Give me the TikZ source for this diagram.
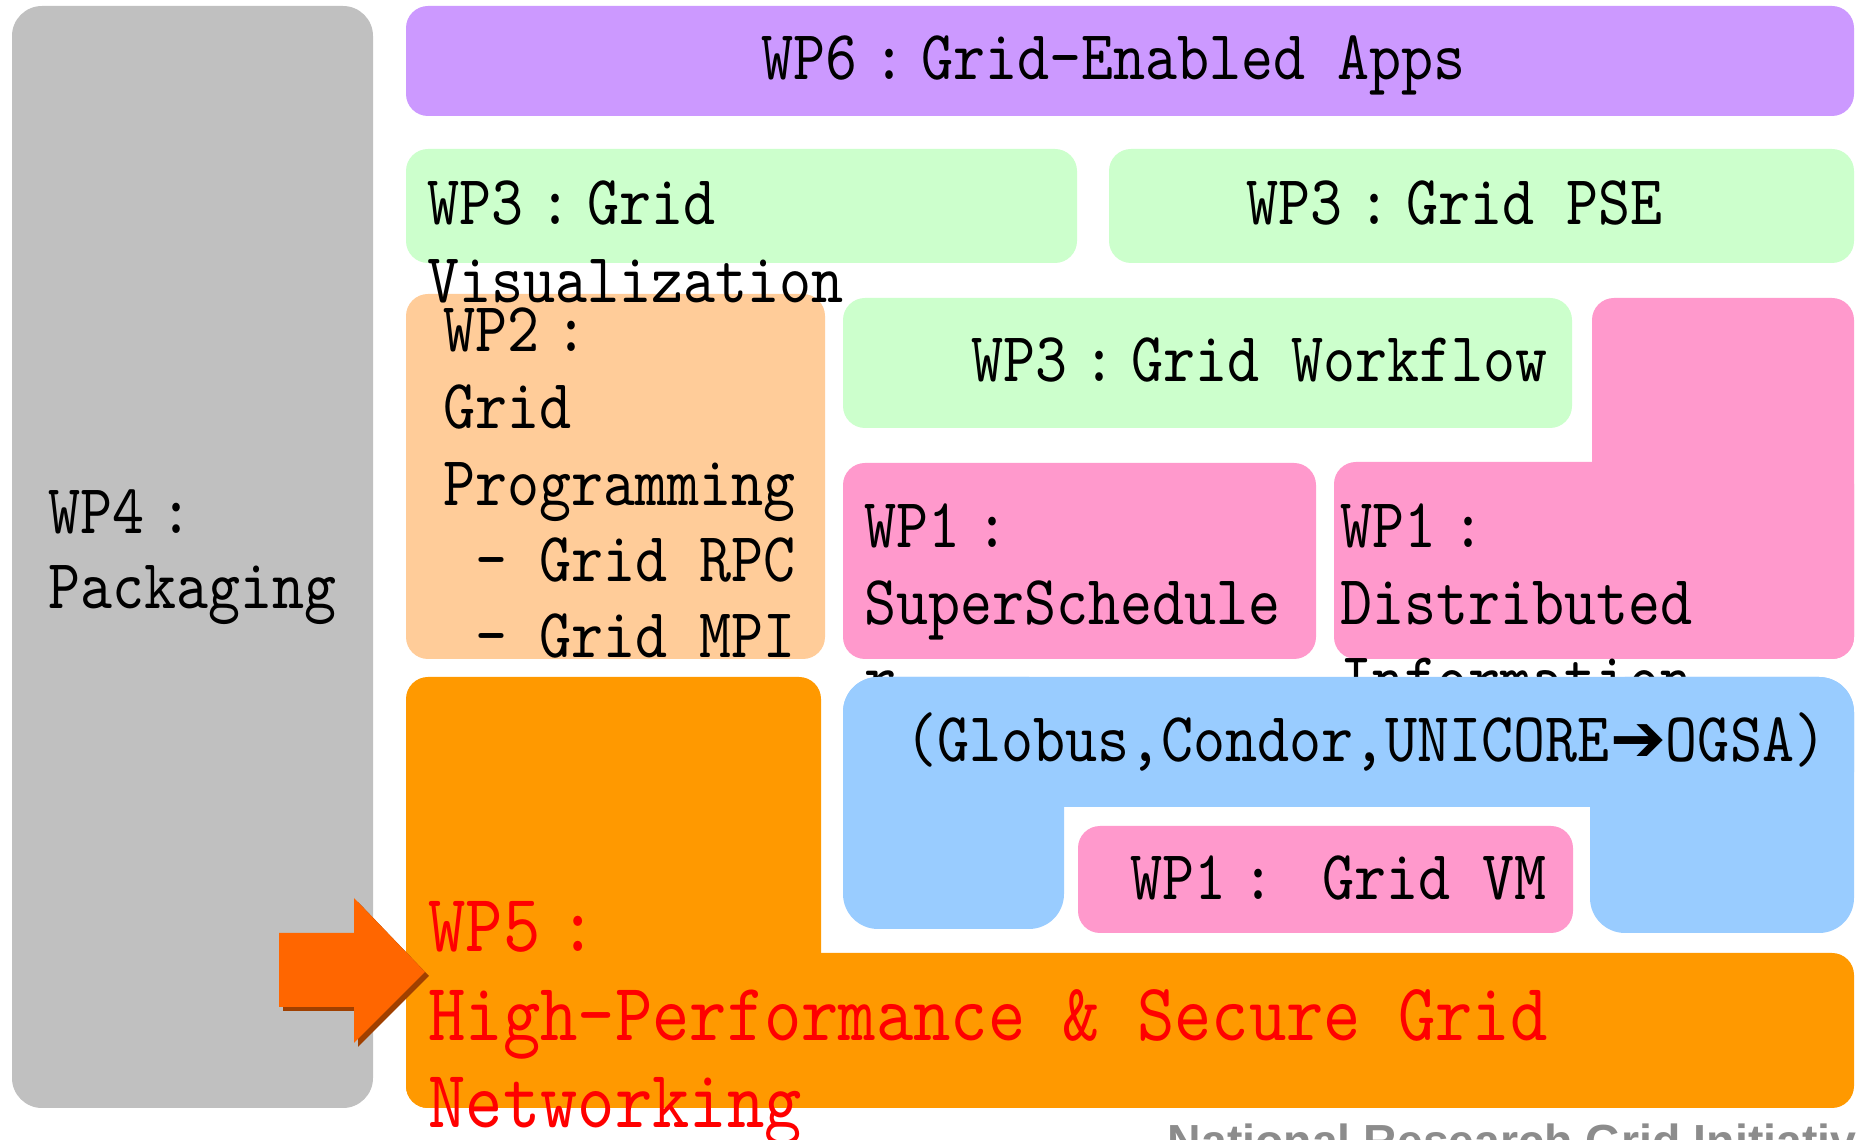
\documentclass[tikz,border=0pt]{standalone}
\usepackage{fontspec}
\setsansfont{Liberation Sans}
\newfontfamily\wpfont{lmmono10-regular.otf}[FakeStretch=0.867]
\newfontfamily\symfont{DejaVu Sans}
\usepackage{xcolor}
\usepackage{tikz}
\usetikzlibrary{positioning}
\definecolor{wpgray}{HTML}{C0C0C0}
\definecolor{wppurple}{HTML}{CC99FF}
\definecolor{wpgreen}{HTML}{CCFFCC}
\definecolor{wppeach}{HTML}{FFCC99}
\definecolor{wppink}{HTML}{FF99CC}
\definecolor{wpblue}{HTML}{99CCFF}
\definecolor{wporange}{HTML}{FF9900}
\definecolor{wparrow}{HTML}{FF6600}
\definecolor{wparrowdk}{HTML}{A04000}
\definecolor{wpred}{HTML}{FF0000}
\definecolor{nrgray}{HTML}{8C8C8C}
% full-width colon (two columns)
\newcommand\jc{\makebox[2\fontcharwd\font`\:]{:}}
\tikzset{box/.style={rounded corners=0.22cm},
  txt/.style={anchor=base west, inner sep=0pt, font=\wpfont\fontsize{20}{24}\selectfont},
  redtxt/.style={txt, text=wpred, font=\wpfont\fontsize{23.3}{28}\selectfont}}

\begin{document}
\begin{tikzpicture}[x=0.01cm, y=-0.01cm]
    \useasboundingbox (0,0) rectangle (1856,1140);
    \clip (0,0) rectangle (1856,1140);
    \fill[white] (0,0) rectangle (1856,1140);

    % WP4 column
    \fill[wpgray, rounded corners=0.3cm] (12,6) rectangle (373,1108);
    \node[txt] (wp4a) at (48,534) {WP4\jc};
    \node[txt] (wp4b) at (48,609) {Packaging};

    % WP6 band
    \fill[wppurple, box] (406,6) rectangle (1854,116);
    \node[txt] (wp6) at (761,80) {WP6\jc Grid-Enabled Apps};

    % WP3 boxes
    \fill[wpgreen, box] (406,149) rectangle (1077,263);
    \fill[wpgreen, box] (1109,149) rectangle (1854,263);
    \node[txt] (pse) at (1246,225) {WP3\jc Grid PSE};

    % WP2
    \fill[wppeach, box] (406,294) rectangle (825,659);
    \node[txt] (wp2a) at (443,352) {WP2\jc};
    \node[txt] (wp2b) at (443,429) {Grid};
    \node[txt] (wp2c) at (443,506) {Programming};
    \node[txt] (wp2d) at (443,582) {~–~Grid RPC};
    \node[txt] (wp2e) at (443,658) {~–~Grid MPI};

    % visualization text runs over WP2
    \node[txt] (visa) at (427,225) {WP3\jc Grid};
    \node[txt] (visb) at (427,303) {Visualization};

    % workflow
    \fill[wpgreen, box] (843,298) rectangle (1572,428);
    \node[txt] (flow) at (971,382) {WP3\jc Grid Workflow};

    % WP1 middle-ware boxes
    \fill[wppink, box] (843,463) rectangle (1316,659);
    \fill[wppink, box] (1592,298) rectangle (1854,659);
    \fill[wppink, box] (1334,462) rectangle (1854,659);
    \node[txt] (ssa) at (864,548) {WP1\jc};
    \node[txt] (ssb) at (864,625) {SuperSchedule};
    \node[txt] (ssc) at (864,702) {r};
    \node[txt] (dia) at (1340,548) {WP1\jc};
    \node[txt] (dib) at (1340,625) {Distributed};
    \node[txt] (dic) at (1340,702) {Information};

    % globus layer
    \fill[wpblue, rounded corners=0.35cm] (843,677) rectangle (1064,929);
    \fill[wpblue, rounded corners=0.35cm] (1590,677) rectangle (1854,933);
    \fill[wpblue, rounded corners=0.35cm] (843,677) rectangle (1854,807);
    \node[txt] (globus) at (905,762) {(Globus,Condor,UNICORE{\symfont\fontsize{19}{22}\selectfont ➔}OGSA)};

    \fill[wppink, box] (1078,826) rectangle (1573,933);
    \node[txt] (vm) at (1130,900) {WP1\jc\ Grid VM};

    % WP5
    \fill[wporange, box] (406,677) rectangle (821,1108);
    \fill[wporange, box] (406,953) rectangle (1854,1108);
    \node[redtxt] (wp5a) at (428,952) {WP5\jc};
    \node[redtxt] (wp5b) at (428,1041) {High-Performance \& Secure Grid};
    \node[redtxt] (wp5c) at (428,1128) {Networking};

    % arrow
    \fill[wparrowdk, shift={(4,4)}] (279,933) -- (354,933) -- (354,898) -- (425,972)
        -- (354,1043) -- (354,1007) -- (279,1007) -- cycle;
    \fill[wparrow] (279,933) -- (354,933) -- (354,898) -- (425,972)
        -- (354,1043) -- (354,1007) -- (279,1007) -- cycle;

    \node[anchor=base west, inner sep=0pt, text=nrgray,
        font=\sffamily\bfseries\fontsize{13.2}{15}\selectfont] (nrgi) at (1167,1158)
        {National Research Grid Initiative};
\end{tikzpicture}
\end{document}
